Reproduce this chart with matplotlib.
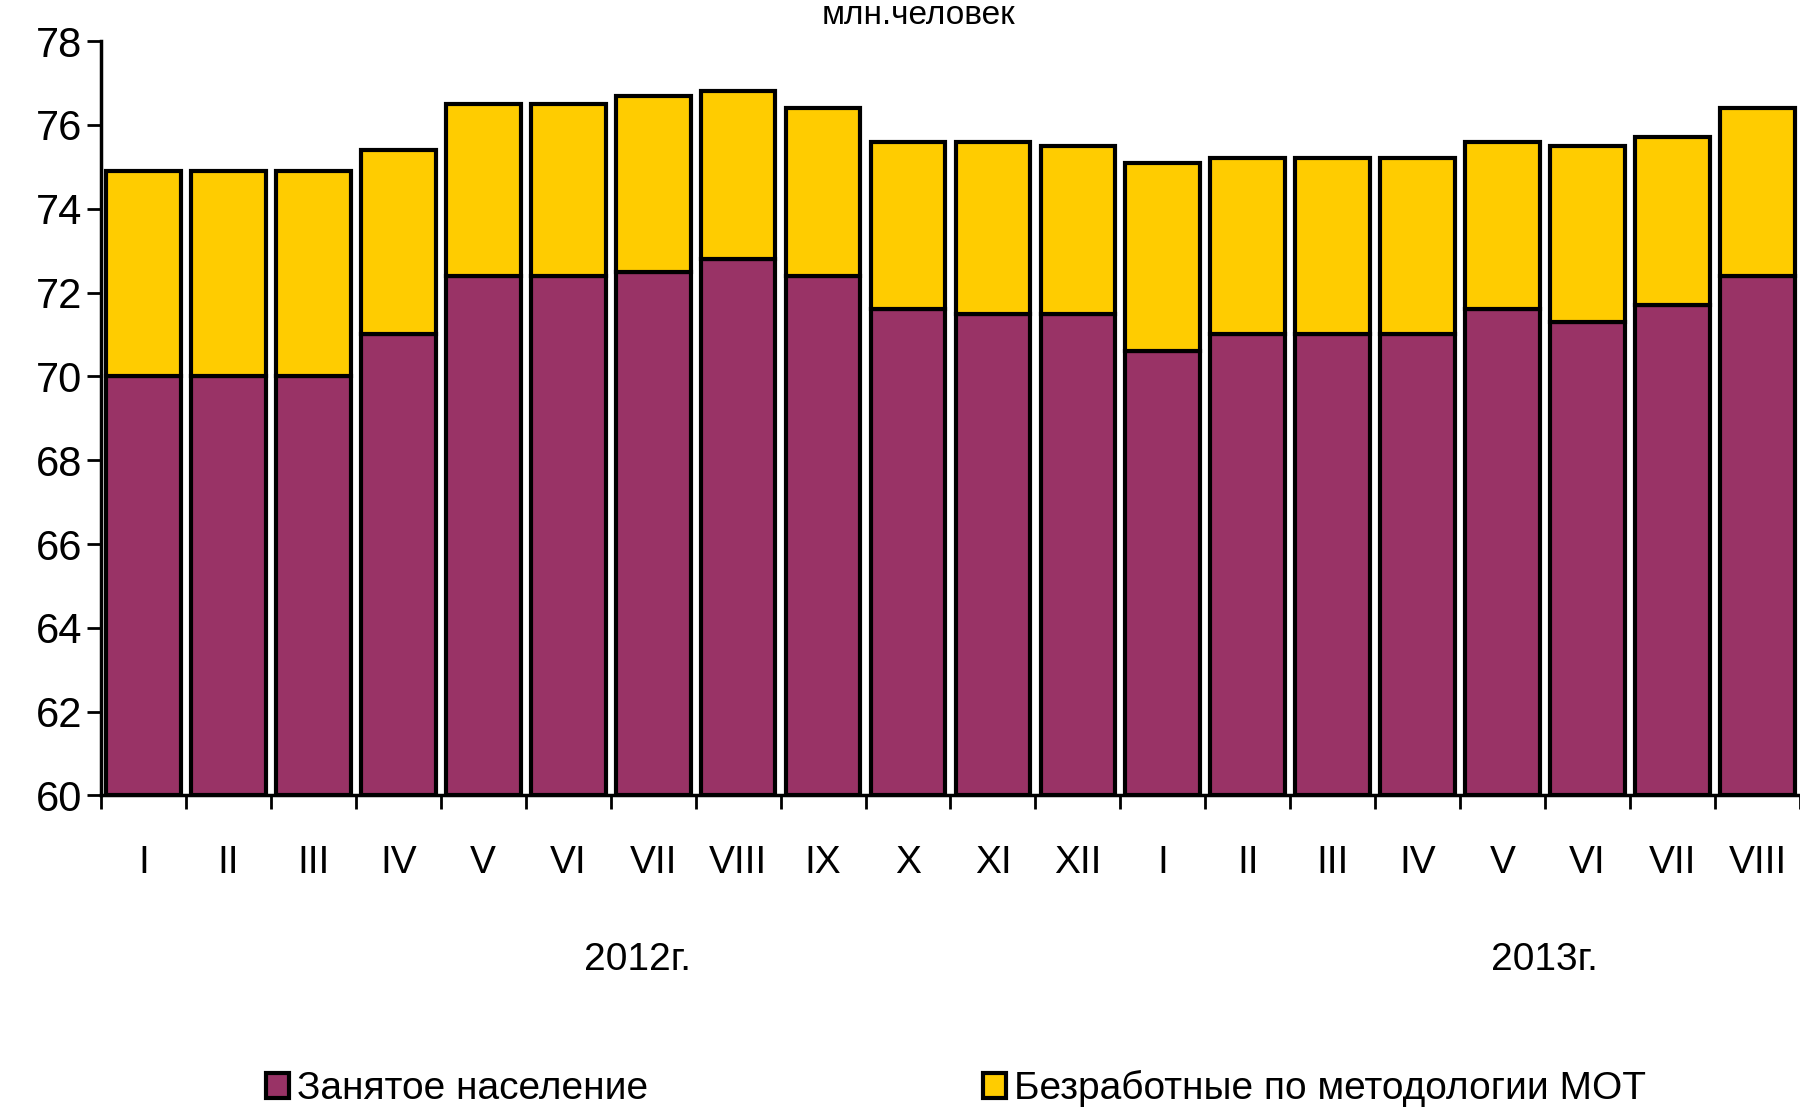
import matplotlib.pyplot as plt
import numpy as np

plt.rcParams['font.family'] = ['Liberation Sans Narrow', 'Liberation Sans', 'DejaVu Sans']

# monthly data, mln people
months = ["I", "II", "III", "IV", "V", "VI", "VII", "VIII", "IX", "X", "XI", "XII",
          "I", "II", "III", "IV", "V", "VI", "VII", "VIII"]
employed = [70.0, 70.0, 70.0, 71.0, 72.4, 72.4, 72.5, 72.8, 72.4, 71.6, 71.5, 71.5,
            70.6, 71.0, 71.0, 71.0, 71.6, 71.3, 71.7, 72.4]
unemployed = [4.9, 4.9, 4.9, 4.4, 4.1, 4.1, 4.2, 4.0, 4.0, 4.0, 4.1, 4.0,
              4.5, 4.2, 4.2, 4.2, 4.0, 4.2, 4.0, 4.0]
years = ["2012г.", "2013г."]

purple = "#993366"
yellow = "#FFCC00"

fig = plt.figure(figsize=(18, 11.11), dpi=100)
ax = fig.add_axes([0.0561, 0.284, 0.9439, 0.679])

x = np.arange(len(months))
base = 60
ax.bar(x, np.array(employed) - base, bottom=base, width=0.88, color=purple,
       edgecolor="black", linewidth=3, label="Занятое население")
ax.bar(x, unemployed, bottom=employed, width=0.88, color=yellow,
       edgecolor="black", linewidth=3, label="Безработные по методологии МОТ")

ax.set_ylim(60, 78)
ax.set_xlim(-0.5, len(months) - 0.5)
ax.set_yticks(np.arange(60, 79, 2))
ax.tick_params(axis="y", labelsize=30, length=10, width=2, direction="out")

# ticks between bars, labels centered under bars
ax.set_xticks(np.arange(-0.5, len(months), 1.0))
ax.set_xticklabels([])
ax.set_xticks(x, minor=True)
ax.set_xticklabels(months, minor=True)
ax.tick_params(axis="x", which="major", length=10, width=2, direction="out")
ax.tick_params(axis="x", which="minor", length=0, labelsize=28, pad=36)

for side in ["top", "right"]:
    ax.spines[side].set_visible(False)
ax.spines["left"].set_linewidth(2.5)
ax.spines["bottom"].set_linewidth(2.5)

fig.text(0.354, 0.127, years[0], fontsize=28, ha="center")
fig.text(0.858, 0.127, years[1], fontsize=28, ha="center")
fig.text(0.51, 0.986, "млн.человек", fontsize=24, ha="center", va="center")

fig.legend(loc="lower center", bbox_to_anchor=(0.531, -0.028), ncol=2, frameon=False,
           fontsize=28, handlelength=0.6, handleheight=0.6, handletextpad=0.2,
           columnspacing=8.6)

fig.savefig("out.png", dpi=100)
